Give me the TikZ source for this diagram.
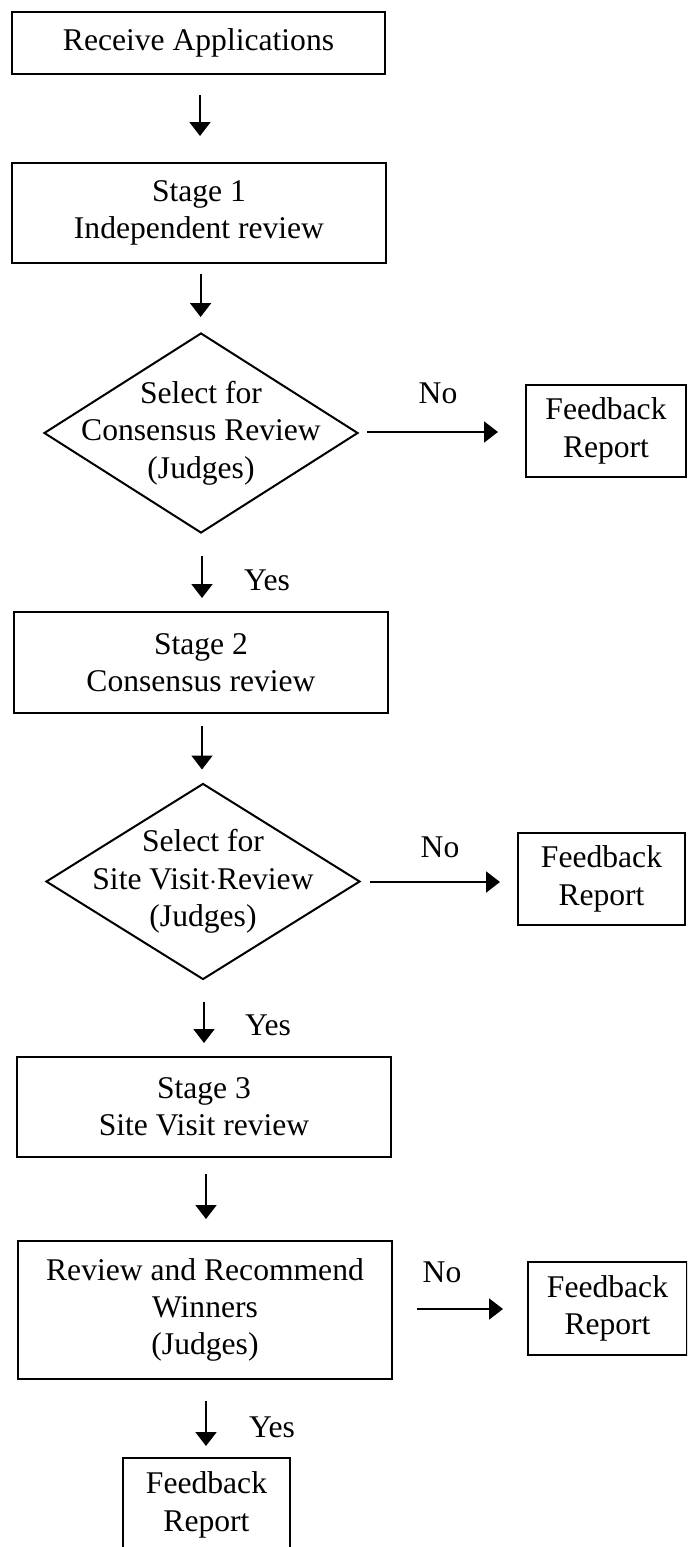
\documentclass[tikz,border=0pt]{standalone}
\usepackage{fontspec}
\setmainfont{Liberation Serif}
\usetikzlibrary{shapes.geometric,arrows.meta,calc}

\begin{document}
\begin{tikzpicture}[x=0.5pt,y=-0.5pt,
  every node/.style={font=\fontsize{15.8}{18.7}\selectfont, align=center, inner sep=0pt},
  procbox/.style={draw, line width=1pt, rectangle},
  decision/.style={draw, line width=1pt, diamond, minimum width=157pt, minimum height=100pt},
  fbbox/.style={draw, line width=1pt, rectangle, minimum width=80pt, minimum height=46pt},
  arr/.style={line width=1pt, -{Triangle[length=7pt,width=10.5pt]}},
  lbl/.style={}
]
\useasboundingbox (0,0) rectangle (687,1547);
\clip (0,0) rectangle (687,1547);

% main column
\node[procbox, minimum width=186.5pt, minimum height=31pt] (recv) at (198.5,43) {Receive Applications};
\node[procbox, minimum width=187pt, minimum height=50pt] (st1) at (199,213) {Stage 1\\Independent review};
\node[decision] (d1) at (201,433) {};
\node (d1t) at (201,433) {Select for\\Consensus Review\\(Judges)};
\node[procbox, minimum width=187pt, minimum height=50.5pt] (st2) at (201,662.5) {Stage 2\\Consensus review};
\node[decision, minimum height=98pt] (d2) at (203,881.5) {};
\node (d2t) at (203,881.5) {Select for\\Site Visit$\cdot$Review\\(Judges)};
\node[procbox, minimum width=187pt, minimum height=50pt] (st3) at (204,1107) {Stage 3\\Site Visit review};
\node[procbox, minimum width=187pt, minimum height=69pt] (rev) at (205,1310) {Review and Recommend\\Winners\\(Judges)};
\node[fbbox, minimum width=83.5pt, minimum height=47pt] (fb4) at (206.5,1505) {Feedback\\Report};

% feedback column
\node[fbbox] (fb1) at (606,431) {Feedback\\Report};
\node[fbbox, minimum width=83.5pt] (fb2) at (601.5,879) {Feedback\\Report};
\node[fbbox, minimum width=79.5pt, minimum height=46.5pt] (fb3) at (607.5,1308.5) {Feedback\\Report};

% downward connectors
\draw[arr] ($(recv.south)+(1.5,20)$) -- ($(st1.north)+(1,-26)$);
\draw[arr] ($(st1.south)+(1.6,10)$) -- ($(d1.north)+(-0.4,-15)$);
\draw[arr] ($(d1.south)+(1,22)$) -- ($(st2.north)+(1,-13)$);
\draw[arr] ($(st2.south)+(1,12)$) -- ($(d2.north)+(-1,-13)$);
\draw[arr] ($(d2.south)+(1,21)$) -- ($(st3.north)+(0,-13)$);
\draw[arr] ($(st3.south)+(2,16)$) -- ($(rev.north)+(1,-21)$);
\draw[arr] ($(rev.south)+(1,21)$) -- ($(fb4.north)+(-0.5,-11)$);

% side connectors
\draw[arr] ($(d1.east)+(8,-1)$) -- ($(fb1.west)+(-27,1)$);
\draw[arr] ($(d2.east)+(9,0.5)$) -- ($(fb2.west)+(-17,3)$);
\draw[arr] ($(rev.east)+(24,-1)$) -- ($(fb3.west)+(-24,0.5)$);

% branch labels
\node[lbl] (no1) at (438,393) {No};
\node[lbl] (no2) at (440,847) {No};
\node[lbl] (no3) at (442,1272) {No};
\node[lbl] (yes1) at (267,580) {Yes};
\node[lbl] (yes2) at (268,1025) {Yes};
\node[lbl] (yes3) at (272,1427) {Yes};
\end{tikzpicture}
\end{document}
